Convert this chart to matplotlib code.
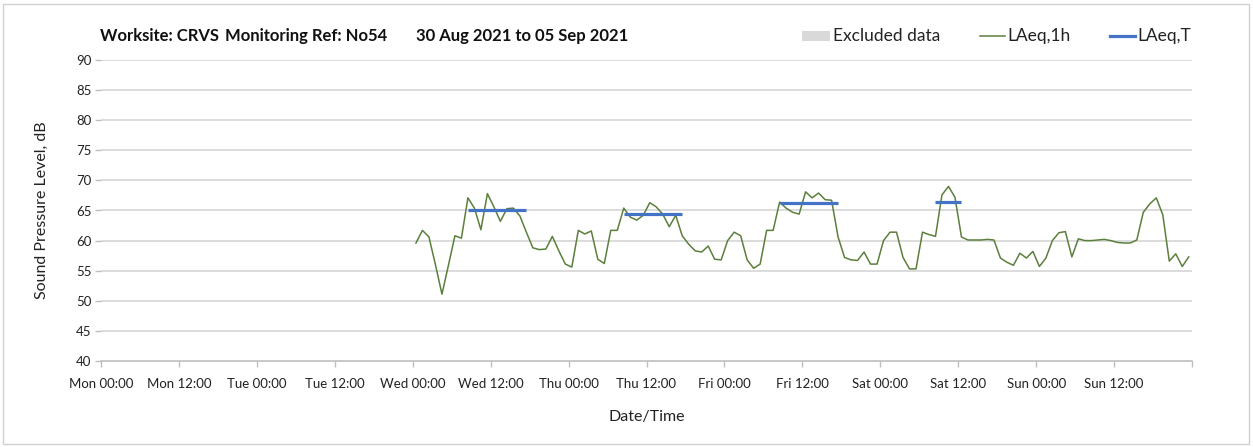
import matplotlib
matplotlib.use("Agg")
import matplotlib.pyplot as plt
import matplotlib.dates as mdates
from matplotlib.patches import Rectangle
from matplotlib.lines import Line2D
from matplotlib.ticker import FuncFormatter
import pandas as pd
import numpy as np

plt.rcParams['font.family'] = ['Lato', 'DejaVu Sans']

# ---- data ----
axis_start = "2021-08-30 00:00"
axis_end = "2021-09-06 00:00"
data_start = "2021-09-01 00:30"

laeq_1h = [
    59.6, 61.7, 60.6, 56.0, 51.1, 55.9, 60.8, 60.4, 67.1, 65.4, 61.8, 67.8,
    65.6, 63.2, 65.3, 65.4, 64.1, 61.4, 58.8, 58.5, 58.6, 60.7, 58.3, 56.1,
    55.6, 61.7, 61.1, 61.6, 56.9, 56.2, 61.7, 61.7, 65.4, 63.9, 63.4, 64.2,
    66.3, 65.6, 64.4, 62.3, 64.2, 60.8, 59.4, 58.3, 58.1, 59.1, 56.9, 56.8,
    60.0, 61.4, 60.8, 56.8, 55.4, 56.1, 61.7, 61.7, 66.4, 65.4, 64.7, 64.4,
    68.1, 67.1, 67.9, 66.8, 66.7, 60.6, 57.2, 56.8, 56.7, 58.1, 56.1, 56.1,
    60.0, 61.4, 61.4, 57.2, 55.3, 55.3, 61.4, 61.0, 60.7, 67.6, 69.0, 67.2,
    60.6, 60.1, 60.1, 60.1, 60.2, 60.1, 57.1, 56.4, 55.9, 57.9, 57.1, 58.2,
    55.7, 57.1, 60.0, 61.3, 61.5, 57.3, 60.3, 60.0, 60.0, 60.1, 60.2, 60.0,
    59.7, 59.6, 59.6, 60.1, 64.7, 66.1, 67.1, 64.3, 56.6, 57.8, 55.7, 57.3,
]

# LAeq,T periods: (first hour index, last hour index, value)
period_start_idx = [8, 32, 56, 80]
period_end_idx = [17, 41, 65, 84]
period_values = [65.1, 64.4, 66.3, 66.4]

y_ticks = list(range(40, 95, 5))
title_parts = ["Worksite: CRVS", "Monitoring Ref: No54", "30 Aug 2021 to 05 Sep 2021"]
legend_labels = ["Excluded data", "LAeq,1h", "LAeq,T"]

# ---- build series ----
times = pd.date_range(data_start, periods=len(laeq_1h), freq="h")
laeq_t = np.full(len(laeq_1h), np.nan)
for s, e, v in zip(period_start_idx, period_end_idx, period_values):
    laeq_t[s:e + 1] = v

W, H = 1253, 447
fig = plt.figure(figsize=(W / 100, H / 100), dpi=100)
ax = fig.add_axes([101 / W, 1 - 361 / H, (1192 - 101) / W, (361 - 60) / H])

green = '#5b7f3c'
blue = '#4472c4'
txt = '#222222'

ax.plot(times, laeq_1h, color=green, lw=1.1, zorder=3)
ax.plot(times, laeq_t, color=blue, lw=2.3, zorder=4, solid_capstyle='butt')

x0, x1 = pd.Timestamp(axis_start), pd.Timestamp(axis_end)
ax.set_xlim(x0, x1)
ax.set_ylim(40, 90)
ax.set_yticks(y_ticks)
ax.set_yticklabels([str(v) for v in y_ticks])

end_num = mdates.date2num(x1)


def fmt(v, pos):
    if abs(v - end_num) < 1e-6:
        return ''
    return mdates.num2date(v).strftime('%a %H:%M')


ax.xaxis.set_major_locator(mdates.HourLocator(byhour=[0, 12]))
ax.xaxis.set_major_formatter(FuncFormatter(fmt))
ax.xaxis.set_minor_locator(mdates.DayLocator())

# gridlines
ax.grid(False)
for y in y_ticks[1:]:
    ax.axhline(y, color='#d9d9d9', lw=1.3, zorder=1)
ax.grid(True, which='minor', axis='x', color='#e3e3e3', lw=1.0, zorder=1)

for s in ['top', 'right', 'left']:
    ax.spines[s].set_visible(False)
ax.spines['bottom'].set_color('#bfbfbf')
ax.spines['bottom'].set_linewidth(1.2)

ax.tick_params(axis='x', which='major', length=4, color='#bfbfbf', width=1,
               labelsize=9.5, labelcolor=txt, pad=8)
ax.tick_params(axis='x', which='minor', length=0)
ax.tick_params(axis='y', length=4, color='#bfbfbf', width=1,
               labelsize=9.5, labelcolor=txt, pad=3)

ax.set_xlabel("Date/Time", fontsize=11.5, color=txt, labelpad=15)
ax.set_ylabel("Sound Pressure Level, dB", fontsize=11.5, color=txt, labelpad=19)

# title in three parts
ty = 1 - 36 / H
for xp, part in zip([100, 225, 416], title_parts):
    fig.text(xp / W, ty, part, fontsize=12, fontweight='bold',
             ha='left', va='center', color='#111111')

# manual legend
ly = 1 - 36 / H
fig.patches.append(Rectangle((802 / W, 1 - 41 / H), 28 / W, 10 / H,
                             transform=fig.transFigure, facecolor='#d9d9d9',
                             edgecolor='none'))
fig.lines.append(Line2D([980 / W, 1005 / W], [ly, ly], transform=fig.transFigure,
                        color=green, lw=1.1))
fig.lines.append(Line2D([1110 / W, 1135 / W], [ly, ly], transform=fig.transFigure,
                        color=blue, lw=2.3))
for xp, lab in zip([833, 1007, 1137], legend_labels):
    fig.text(xp / W, ly, lab, fontsize=12.5, ha='left', va='center', color=txt)

fig.patches.append(Rectangle((3 / W, 3 / H), (W - 7) / W, (H - 7) / H,
                             transform=fig.transFigure, fill=False,
                             edgecolor='#d0d0d0', lw=1))

fig.savefig("out.png", dpi=100)
